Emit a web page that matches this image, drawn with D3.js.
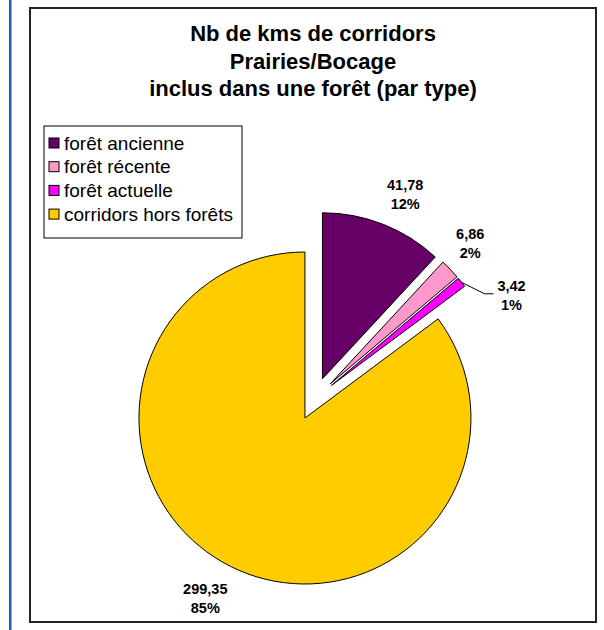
<!DOCTYPE html>
<html><head><meta charset="utf-8">
<script src="https://cdn.jsdelivr.net/npm/d3@7"></script>
<style>body{margin:0;background:#fff}svg{display:block}text{font-family:"Liberation Sans",Arial,sans-serif}</style>
</head><body><svg id="c" width="604" height="630"></svg>
<script>
const categories = ["forêt ancienne","forêt récente","forêt actuelle","corridors hors forêts"];
const values = [41.78, 6.86, 3.42, 299.35];
const colors = ["#660066","#FF99CC","#FF00FF","#FFCC00"];
const titleLines = ["Nb de kms de corridors","Prairies/Bocage","inclus dans une forêt (par type)"];

const svg = d3.select("#c");
// left blue rule
svg.append("rect").attr("x",9).attr("y",0).attr("width",2.5).attr("height",630).attr("fill","#1F5CB8");
// chart frame
svg.append("rect").attr("x",30).attr("y",8).attr("width",566).attr("height",614)
  .attr("fill","#fff").attr("stroke","#222").attr("stroke-width",2);

svg.append("g").selectAll("text").data(titleLines).join("text")
  .attr("x",313).attr("y",(d,i)=>41+i*27.5).attr("text-anchor","middle")
  .attr("font-size",22).attr("font-weight","bold").attr("fill","#000").text(d=>d);

// pie
const total = d3.sum(values);
const pie = d3.pie().sort(null).value(d=>d);
const arcs = pie(values);
const R = 166, explode = 21.5;
const cx = 314.6, cy = 398.8;
const arc = d3.arc().innerRadius(0).outerRadius(R);
const dir = a => [Math.sin(a), -Math.cos(a)];
const g = svg.append("g");
arcs.forEach((a,i)=>{
  const m = (a.startAngle+a.endAngle)/2, [dx,dy] = dir(m);
  const ox = cx+dx*explode, oy = cy+dy*explode;
  g.append("path").attr("d",arc(a)).attr("transform",`translate(${ox},${oy})`)
    .attr("fill",colors[i]).attr("stroke","#000").attr("stroke-width",1);
});

// labels
const fmt = v => d3.format(".2f")(v).replace(".",",");
const pct = v => Math.round(v/total*100)+"%";
const labR = 202;
const nudge = [[9,2],[-6,-2],[0,0],[-9,-2]];
arcs.forEach((a,i)=>{
  const m = (a.startAngle+a.endAngle)/2, [dx,dy] = dir(m);
  const ox = cx+dx*explode, oy = cy+dy*explode;
  let lx, ly;
  if (i===2) {
    const ex = ox+dx*R, ey = oy+dy*R;
    const kx = ex+23, ky = ey+11.5;
    svg.append("polyline").attr("points",`${ex},${ey} ${kx},${ky} ${kx+9},${ky}`)
      .attr("fill","none").attr("stroke","#000").attr("stroke-width",1);
    lx = kx+27; ly = ky;
  } else {
    lx = ox+dx*labR+nudge[i][0]; ly = oy+dy*labR+nudge[i][1];
  }
  const t = svg.append("text").attr("text-anchor","middle").attr("font-size",14.5)
    .attr("font-weight","bold").attr("fill","#000");
  t.append("tspan").attr("x",lx).attr("y",ly-3).text(fmt(values[i]));
  t.append("tspan").attr("x",lx).attr("y",ly+16).text(pct(values[i]));
});

// legend
const lg = svg.append("g");
lg.append("rect").attr("x",44).attr("y",126).attr("width",198).attr("height",112)
  .attr("fill","#fff").attr("stroke","#000").attr("stroke-width",1);
categories.forEach((c,i)=>{
  const y = 143 + i*23.7;
  lg.append("rect").attr("x",49).attr("y",y-5).attr("width",10).attr("height",10)
    .attr("fill",colors[i]).attr("stroke","#000").attr("stroke-width",1);
  lg.append("text").attr("x",64).attr("y",y+6.5).attr("font-size",19).attr("fill","#000").text(c);
});
</script></body></html>
